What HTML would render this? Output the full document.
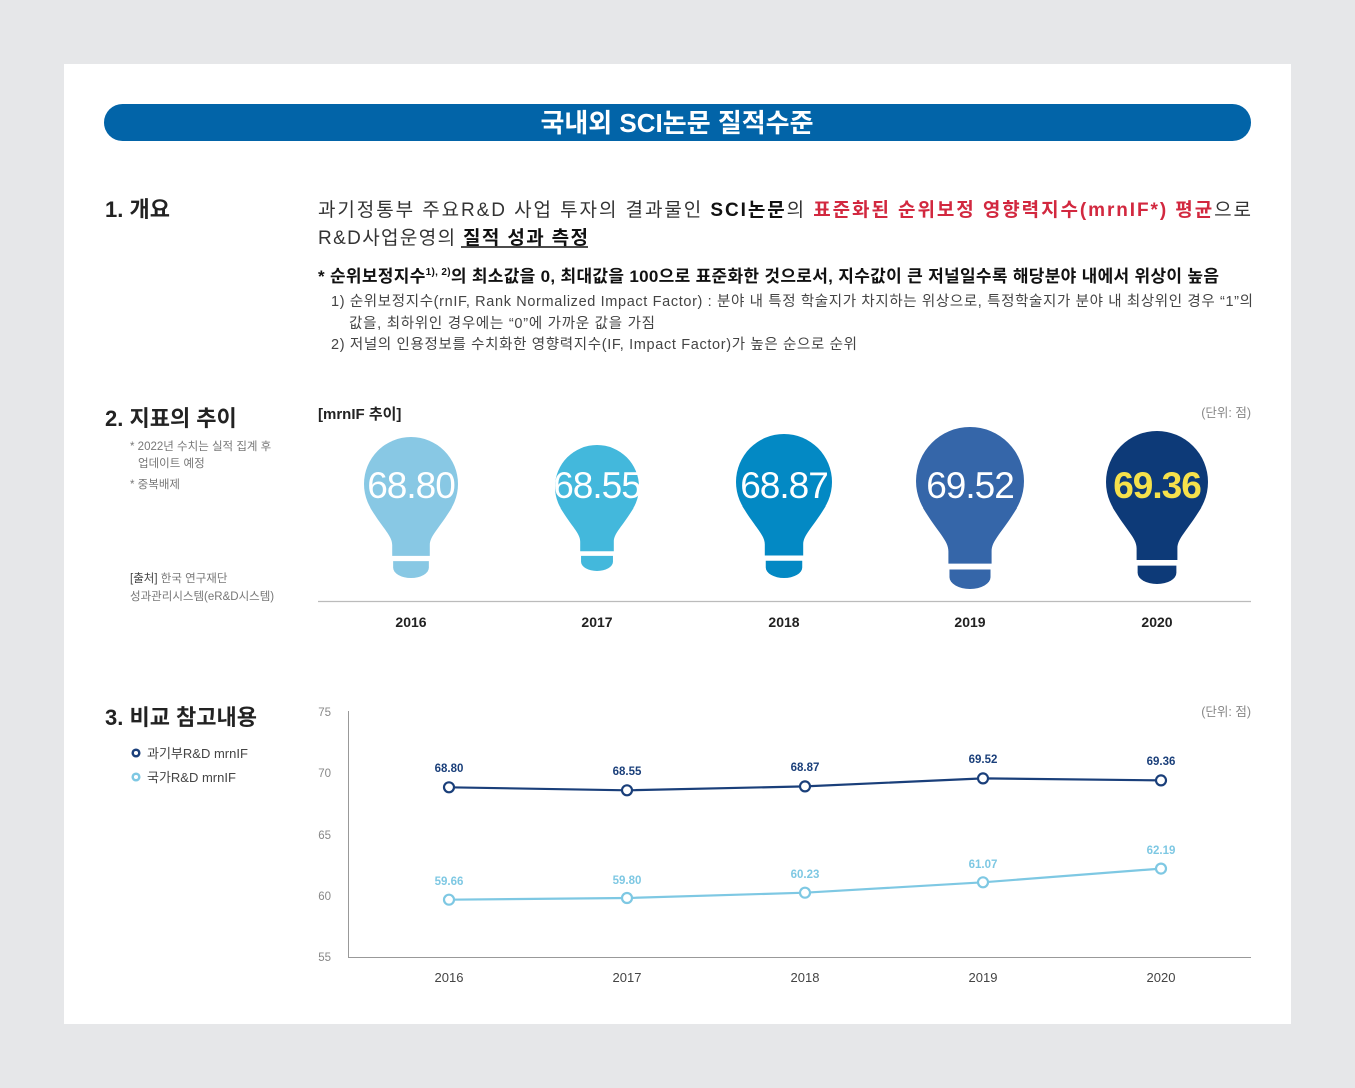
<!DOCTYPE html>
<html><head><meta charset="utf-8"><style>
html,body{margin:0;padding:0;background:#e6e7e9;}
svg{display:block;font-family:"Liberation Sans","Noto Sans CJK KR",sans-serif;}
</style></head><body>
<svg width="1355" height="1088" viewBox="0 0 1355 1088" xmlns="http://www.w3.org/2000/svg">
<defs>
<g id="bulb">
<circle cx="0" cy="0" r="1"/>
<path d="M -0.87,0.5 C -0.6,0.95 -0.4,1.1 -0.4,1.3 L -0.4,1.53 L 0.4,1.53 L 0.4,1.3 C 0.4,1.1 0.6,0.95 0.87,0.5 Z"/>
<path d="M -0.38,1.64 H 0.38 V 1.78 A 0.38 0.22 0 0 1 -0.38 1.78 Z"/>
</g>
</defs>
<rect x="0" y="0" width="1355" height="1088" fill="#e6e7e9"/>
<rect x="64" y="64" width="1227" height="960" fill="#fff"/>
<rect x="104" y="104" width="1147" height="37" rx="18.5" fill="#0264a8"/>
<text x="677" y="132" text-anchor="middle" fill="#fff" font-size="26" font-weight="bold">국내외 SCI논문 질적수준</text>

<text x="105" y="217" font-size="22" font-weight="bold" fill="#222">1. 개요</text>
<text x="318" y="216" font-size="19" fill="#333" textLength="933">과기정통부 주요R&amp;D 사업 투자의 결과물인 <tspan font-weight="bold" fill="#111">SCI논문</tspan>의 <tspan font-weight="bold" fill="#d2283f">표준화된 순위보정 영향력지수(mrnIF*) 평균</tspan>으로</text>
<text x="318" y="244" font-size="19" fill="#333" textLength="270">R&amp;D사업운영의 <tspan font-weight="bold" fill="#111">질적 성과 측정</tspan></text>
<line x1="461" y1="247" x2="588" y2="247" stroke="#111" stroke-width="1.5"/>
<text x="318" y="282" font-size="17" font-weight="bold" fill="#111" textLength="901">* 순위보정지수<tspan font-size="10" dy="-7">1), 2)</tspan><tspan dy="7">의 최소값을 0, 최대값을 100으로 표준화한 것으로서, 지수값이 큰 저널일수록 해당분야 내에서 위상이 높음</tspan></text>
<text x="331" y="306" font-size="14.5" fill="#444" textLength="922">1) 순위보정지수(rnIF, Rank Normalized Impact Factor) : 분야 내 특정 학술지가 차지하는 위상으로, 특정학술지가 분야 내 최상위인 경우 “1”의</text>
<text x="349" y="328" font-size="14.5" fill="#444" textLength="306">값을, 최하위인 경우에는 “0”에 가까운 값을 가짐</text>
<text x="331" y="349" font-size="14.5" fill="#444" textLength="526">2) 저널의 인용정보를 수치화한 영향력지수(IF, Impact Factor)가 높은 순으로 순위</text>

<text x="105" y="426" font-size="22" font-weight="bold" fill="#222">2. 지표의 추이</text>
<text x="130" y="450" font-size="11.5" fill="#777">* 2022년 수치는 실적 집계 후</text>
<text x="138" y="467" font-size="11.5" fill="#777">업데이트 예정</text>
<text x="130" y="488" font-size="11.5" fill="#777">* 중복배제</text>
<text x="130" y="582" font-size="11.5" fill="#777"><tspan fill="#444">[출처]</tspan> 한국 연구재단</text>
<text x="130" y="600" font-size="11.5" fill="#777">성과관리시스템(eR&amp;D시스템)</text>

<text x="318" y="419" font-size="15" font-weight="bold" fill="#222">[mrnIF 추이]</text>
<text x="1251" y="417" font-size="12.5" fill="#888" text-anchor="end">(단위: 점)</text>

<use href="#bulb" transform="translate(411,484) scale(47)" fill="#88c8e4"/>
<use href="#bulb" transform="translate(597,487) scale(42)" fill="#43b8dc"/>
<use href="#bulb" transform="translate(784,482) scale(48)" fill="#0389c4"/>
<use href="#bulb" transform="translate(970,481) scale(54)" fill="#3566a9"/>
<use href="#bulb" transform="translate(1157,482) scale(51)" fill="#0d3a78"/>
<g font-size="37" fill="#fff" text-anchor="middle" letter-spacing="-1">
<text x="411" y="498">68.80</text>
<text x="597" y="498">68.55</text>
<text x="784" y="498">68.87</text>
<text x="970" y="498">69.52</text>
<text x="1157" y="498" fill="#f6e14b" font-weight="bold">69.36</text>
</g>
<line x1="318" y1="601.5" x2="1251" y2="601.5" stroke="#bbb" stroke-width="1.2"/>
<g font-size="14" font-weight="bold" fill="#222" text-anchor="middle">
<text x="411" y="627">2016</text><text x="597" y="627">2017</text><text x="784" y="627">2018</text><text x="970" y="627">2019</text><text x="1157" y="627">2020</text>
</g>

<text x="105" y="725" font-size="22" font-weight="bold" fill="#222">3. 비교 참고내용</text>
<circle cx="136" cy="753" r="3.3" fill="#fff" stroke="#1a3f7a" stroke-width="2.5"/>
<text x="147" y="758" font-size="13" fill="#444">과기부R&amp;D mrnIF</text>
<circle cx="136" cy="777" r="3.3" fill="#fff" stroke="#7ec8e3" stroke-width="2.5"/>
<text x="147" y="782" font-size="13" fill="#444">국가R&amp;D mrnIF</text>

<text x="1251" y="716" font-size="12.5" fill="#888" text-anchor="end">(단위: 점)</text>
<g font-size="11.5" fill="#888" text-anchor="end">
<text x="331" y="716">75</text><text x="331" y="777">70</text><text x="331" y="839">65</text><text x="331" y="900">60</text><text x="331" y="961">55</text>
</g>
<line x1="348.5" y1="711" x2="348.5" y2="957" stroke="#999" stroke-width="1"/>
<line x1="348" y1="957.5" x2="1251" y2="957.5" stroke="#999" stroke-width="1"/>
<g font-size="13" fill="#444" text-anchor="middle">
<text x="449" y="982">2016</text><text x="627" y="982">2017</text><text x="805" y="982">2018</text><text x="983" y="982">2019</text><text x="1161" y="982">2020</text>
</g>
<polyline points="449,787.3 627,790.3 805,786.4 983,778.4 1161,780.4" fill="none" stroke="#1a3f7a" stroke-width="2.2"/>
<polyline points="449,899.7 627,898 805,892.7 983,882.3 1161,868.6" fill="none" stroke="#7ec8e3" stroke-width="2.2"/>
<g fill="#fff" stroke="#1a3f7a" stroke-width="2.2">
<circle cx="449" cy="787.3" r="5"/><circle cx="627" cy="790.3" r="5"/><circle cx="805" cy="786.4" r="5"/><circle cx="983" cy="778.4" r="5"/><circle cx="1161" cy="780.4" r="5"/>
</g>
<g fill="#fff" stroke="#7ec8e3" stroke-width="2.2">
<circle cx="449" cy="899.7" r="5"/><circle cx="627" cy="898" r="5"/><circle cx="805" cy="892.7" r="5"/><circle cx="983" cy="882.3" r="5"/><circle cx="1161" cy="868.6" r="5"/>
</g>
<g font-size="11.5" font-weight="bold" fill="#1a3f7a" text-anchor="middle">
<text x="449" y="772">68.80</text><text x="627" y="775">68.55</text><text x="805" y="771">68.87</text><text x="983" y="763">69.52</text><text x="1161" y="765">69.36</text>
</g>
<g font-size="11.5" font-weight="bold" fill="#7ec8e3" text-anchor="middle">
<text x="449" y="885">59.66</text><text x="627" y="884">59.80</text><text x="805" y="878">60.23</text><text x="983" y="868">61.07</text><text x="1161" y="854">62.19</text>
</g>
</svg>
</body></html>
